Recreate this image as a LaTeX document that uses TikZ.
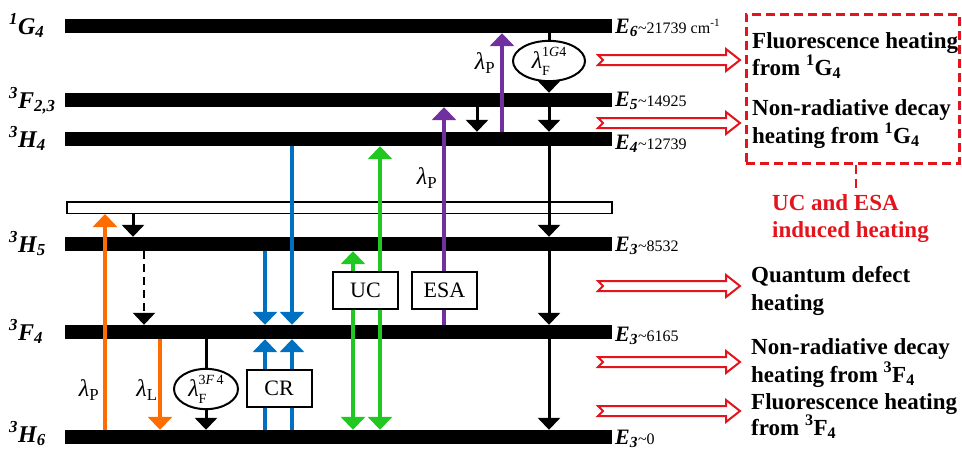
\documentclass[tikz,border=0pt]{standalone}
\usepackage{fontspec}
\setmainfont{Liberation Serif}
\usetikzlibrary{arrows.meta,shapes.geometric}
\definecolor{myorange}{RGB}{255,108,0}
\definecolor{myblue}{RGB}{0,112,192}
\definecolor{mygreen}{RGB}{34,200,34}
\definecolor{mypurple}{RGB}{112,48,160}
\definecolor{myred}{RGB}{228,20,28}
\newcommand\lvl[3]{\textsuperscript{#1}#2\textsubscript{#3}}
\newcommand\lamsub[1]{{\itshape λ}\textsubscript{#1}}
\newcommand\lamF[1]{{\itshape λ}\makebox[0pt][l]{\raisebox{-0.3em}{\fontsize{14}{14}\selectfont F}}\raisebox{0.5em}{\fontsize{14}{14}\selectfont #1}}
\newcommand\elab[2]{{\fontsize{22}{22}\selectfont\bfseries\itshape E\textsubscript{#1}}\textasciitilde #2}
\newcommand\redarrow[1]{\draw[redarr] (598,#1-5) -- (726,#1-5) -- (726,#1-11) -- (740,#1) -- (726,#1+11) -- (726,#1+5) -- (598,#1+5) -- (603,#1) -- cycle;}
\begin{document}
\begin{tikzpicture}[x=1pt,y=-1pt,
  bar/.style={fill=black,inner sep=0pt,minimum width=547pt,minimum height=14pt,anchor=west},
  lvllab/.style={anchor=base west,inner sep=0pt,font=\fontsize{24}{24}\selectfont\bfseries\itshape},
  elabel/.style={anchor=base west,inner sep=0pt,font=\fontsize{16}{16}\selectfont},
  txt/.style={anchor=base west,inner sep=0pt,font=\fontsize{23}{27}\selectfont\bfseries},
  lam/.style={inner sep=0pt,font=\fontsize{24}{24}\selectfont},
  blk/.style={line width=3pt,-{Triangle[width=22pt,length=12pt]}},
  blkline/.style={line width=3pt},
  col/.style={line width=4pt,-{Triangle[width=24pt,length=13pt]}},
  colboth/.style={line width=4pt,{Triangle[width=24pt,length=13pt]}-{Triangle[width=24pt,length=13pt]}},
  boxn/.style={draw,line width=2pt,fill=white,inner sep=0pt,minimum width=65pt,minimum height=37pt,font=\fontsize{22}{22}\selectfont},
  ell/.style={ellipse,draw,line width=2pt,fill=white,inner sep=0pt,font=\fontsize{24}{24}\selectfont},
  redarr/.style={draw=myred,line width=2pt,fill=white,line join=miter}
]
\useasboundingbox (0,0) rectangle (962,450);

% energy levels
\node[bar] (G4) at (65,26) {};
\node[bar] (F23) at (65,100) {};
\node[bar] (H4) at (65,139) {};
\node[draw,line width=1.5pt,fill=white,inner sep=0pt,minimum width=545pt,minimum height=11.5pt,anchor=west] (open) at (66,207.5) {};
\node[bar] (H5) at (65,244) {};
\node[bar] (F4) at (65,332) {};
\node[bar] (H6) at (65,437) {};

% level labels
\node[lvllab] (lG4) at (9,34) {\lvl{1}{G}{4}};
\node[lvllab] (lF23) at (9,108) {\lvl{3}{F}{2,3}};
\node[lvllab] (lH4) at (9,147) {\lvl{3}{H}{4}};
\node[lvllab] (lH5) at (9,252) {\lvl{3}{H}{5}};
\node[lvllab] (lF4) at (9,340) {\lvl{3}{F}{4}};
\node[lvllab] (lH6) at (9,442) {\lvl{3}{H}{6}};

% energy values
\node[elabel] (e6) at (615,33) {\elab{6}{21739 cm\textsuperscript{-1}}};
\node[elabel] (e5) at (615,106) {\elab{5}{14925}};
\node[elabel] (e4) at (615,149) {\elab{4}{12739}};
\node[elabel] (e3a) at (615,251) {\elab{3}{8532}};
\node[elabel] (e3b) at (615,341) {\elab{3}{6165}};
\node[elabel] (e3c) at (615,444) {\elab{3}{0}};

% columns
\coordinate (c1) at (105,0);
\coordinate (c2) at (133,0);
\coordinate (c3) at (144,0);
\coordinate (c4) at (160,0);
\coordinate (c5) at (206,0);
\coordinate (c6) at (265,0);
\coordinate (c7) at (292,0);
\coordinate (c8) at (353,0);
\coordinate (c9) at (380,0);
\coordinate (c10) at (444,0);
\coordinate (c11) at (477,0);
\coordinate (c12) at (502,0);
\coordinate (c13) at (549,0);

% orange
\draw[col,draw=myorange] (H6.north -| c1) -- (open.south -| c1);
\node[lam] (lp1) at (89,390) {\lamsub{P}};
\draw[col,draw=myorange] (F4.south -| c4) -- (H6.north -| c4);
\node[lam] (ll1) at (147,390) {\lamsub{L}};

% small black relaxations
\draw[blk] (open.south -| c2) -- (H5.north -| c2);
\draw[blk,dash pattern=on 8pt off 5pt,line width=2.5pt] (H5.south -| c3) -- (F4.north -| c3);
\draw[blk] (F23.south -| c11) -- (H4.north -| c11);

% 3F4 fluorescence
\node[ell,minimum width=64pt,minimum height=32pt] (ell2) at (206,389) {\lamF{3\textit{F}\,4}};
\draw[blkline] (F4.south -| c5) -- (ell2.north);
\draw[blk] (ell2.south) -- (H6.north -| c5);

% blue cross relaxation
\draw[col,draw=myblue] (H6.north -| c6) -- (F4.south -| c6);
\draw[col,draw=myblue] (H6.north -| c7) -- (F4.south -| c7);
\draw[col,draw=myblue] (H5.south -| c6) -- (F4.north -| c6);
\draw[col,draw=myblue] (H4.south -| c7) -- (F4.north -| c7);
\node[boxn] (CR) at (279,388.5) {CR};

% green upconversion
\draw[colboth,draw=mygreen] (H6.north -| c8) -- (H5.south -| c8);
\draw[colboth,draw=mygreen] (H6.north -| c9) -- (H4.south -| c9);
\node[boxn] (UC) at (365.5,290.5) {UC};

% purple ESA
\draw[col,draw=mypurple] (F4.north -| c10) -- (F23.south -| c10);
\node[boxn] (ESA) at (444.5,290.5) {ESA};
\node[lam] (lp2) at (427,178) {\lamsub{P}};
\draw[col,draw=mypurple] (H4.north -| c12) -- (G4.south -| c12);
\node[lam] (lp3) at (485,63) {\lamsub{P}};

% 1G4 cascade
\node[ell,minimum width=72pt,minimum height=35pt] (ell1) at (549,61) {\lamF{1\textit{G}4}};
\draw[blkline] (G4.south -| c13) -- (ell1.north);
\draw[blk] (ell1.south) -- (F23.north -| c13);
\draw[blk] (F23.south -| c13) -- (H4.north -| c13);
\draw[blk] (H4.south -| c13) -- (H5.north -| c13);
\draw[blk] (H5.south -| c13) -- (F4.north -| c13);
\draw[blk] (F4.south -| c13) -- (H6.north -| c13);

% heating arrows
\redarrow{60}
\redarrow{123}
\redarrow{286}
\redarrow{362}
\redarrow{411}

% red dashed box
\node[draw=myred,line width=2.5pt,dash pattern=on 9pt off 5pt,inner sep=0pt,minimum width=213pt,minimum height=149pt,anchor=north west] (rbox) at (745,13) {};
\coordinate (rdash) at (856,190);
\draw[draw=myred,line width=2.5pt,dash pattern=on 9pt off 5pt] (rbox.south -| rdash) -- (rdash);
\node[txt,text=myred] (r1) at (772,210) {UC and ESA};
\node[txt,text=myred] (r2) at (772,237) {induced heating};

% heating texts
\node[txt] (t1) at (752,48) {Fluorescence heating};
\node[txt] (t2) at (752,75) {from \textsuperscript{1}G\textsubscript{4}};
\node[txt] (t3) at (752,115) {Non-radiative decay};
\node[txt] (t4) at (752,143) {heating from \textsuperscript{1}G\textsubscript{4}};
\node[txt] (t5) at (751,282) {Quantum defect};
\node[txt] (t6) at (751,310) {heating};
\node[txt] (t7) at (751,354) {Non-radiative decay};
\node[txt] (t8) at (751,382) {heating from \textsuperscript{3}F\textsubscript{4}};
\node[txt] (t9) at (751,409) {Fluorescence heating};
\node[txt] (t10) at (751,435) {from \textsuperscript{3}F\textsubscript{4}};
\end{tikzpicture}
\end{document}
